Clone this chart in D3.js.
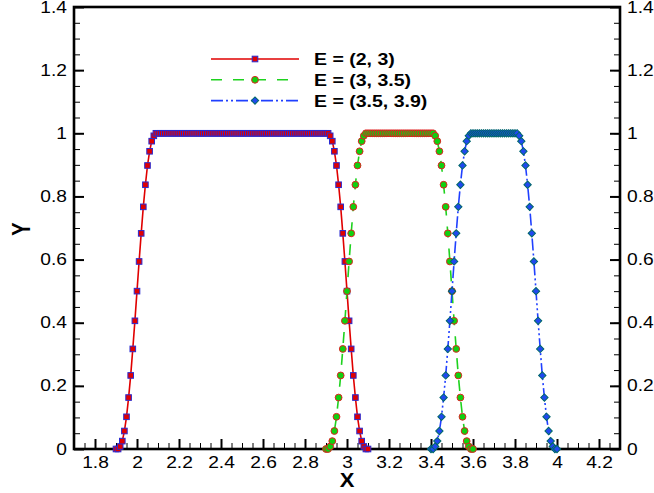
<!DOCTYPE html>
<html>
<head>
<meta charset="utf-8">
<script src="https://cdn.jsdelivr.net/npm/d3@7"></script>
<style>
  body { margin: 0; background: #fff; }
  svg { display: block; font-family: "Liberation Sans", Arial, sans-serif; }
</style>
</head>
<body>
<div id="chart"></div>
<script>
// values, x step 0.01

const x1 = [
  1.90, 1.91, 1.92, 1.93, 1.94, 1.95, 1.96, 1.97, 1.98, 1.99,
  2.00, 2.01, 2.02, 2.03, 2.04, 2.05, 2.06, 2.07, 2.08, 2.09,
  2.10, 2.11, 2.12, 2.13, 2.14, 2.15, 2.16, 2.17, 2.18, 2.19,
  2.20, 2.21, 2.22, 2.23, 2.24, 2.25, 2.26, 2.27, 2.28, 2.29,
  2.30, 2.31, 2.32, 2.33, 2.34, 2.35, 2.36, 2.37, 2.38, 2.39,
  2.40, 2.41, 2.42, 2.43, 2.44, 2.45, 2.46, 2.47, 2.48, 2.49,
  2.50, 2.51, 2.52, 2.53, 2.54, 2.55, 2.56, 2.57, 2.58, 2.59,
  2.60, 2.61, 2.62, 2.63, 2.64, 2.65, 2.66, 2.67, 2.68, 2.69,
  2.70, 2.71, 2.72, 2.73, 2.74, 2.75, 2.76, 2.77, 2.78, 2.79,
  2.80, 2.81, 2.82, 2.83, 2.84, 2.85, 2.86, 2.87, 2.88, 2.89,
  2.90, 2.91, 2.92, 2.93, 2.94, 2.95, 2.96, 2.97, 2.98, 2.99,
  3.00, 3.01, 3.02, 3.03, 3.04, 3.05, 3.06, 3.07, 3.08, 3.09,
  3.10
];
const y1 = [
  0, 0, 0.008, 0.025, 0.057, 0.102, 0.163, 0.233, 0.317, 0.406,
  0.5, 0.594, 0.683, 0.767, 0.837, 0.898, 0.943, 0.975, 0.992, 1,
  1, 1, 1, 1, 1, 1, 1, 1, 1, 1,
  1, 1, 1, 1, 1, 1, 1, 1, 1, 1,
  1, 1, 1, 1, 1, 1, 1, 1, 1, 1,
  1, 1, 1, 1, 1, 1, 1, 1, 1, 1,
  1, 1, 1, 1, 1, 1, 1, 1, 1, 1,
  1, 1, 1, 1, 1, 1, 1, 1, 1, 1,
  1, 1, 1, 1, 1, 1, 1, 1, 1, 1,
  1, 1, 1, 1, 1, 1, 1, 1, 1, 1,
  1, 1, 0.992, 0.975, 0.943, 0.898, 0.837, 0.767, 0.683, 0.594,
  0.5, 0.406, 0.317, 0.233, 0.163, 0.102, 0.057, 0.025, 0.008, 0,
  0
];

const x2 = [
  2.90, 2.91, 2.92, 2.93, 2.94, 2.95, 2.96, 2.97, 2.98, 2.99,
  3.00, 3.01, 3.02, 3.03, 3.04, 3.05, 3.06, 3.07, 3.08, 3.09,
  3.10, 3.11, 3.12, 3.13, 3.14, 3.15, 3.16, 3.17, 3.18, 3.19,
  3.20, 3.21, 3.22, 3.23, 3.24, 3.25, 3.26, 3.27, 3.28, 3.29,
  3.30, 3.31, 3.32, 3.33, 3.34, 3.35, 3.36, 3.37, 3.38, 3.39,
  3.40, 3.41, 3.42, 3.43, 3.44, 3.45, 3.46, 3.47, 3.48, 3.49,
  3.50, 3.51, 3.52, 3.53, 3.54, 3.55, 3.56, 3.57, 3.58, 3.59,
  3.60
];
const y2 = [
  0, 0, 0.008, 0.025, 0.057, 0.102, 0.163, 0.233, 0.317, 0.406,
  0.5, 0.594, 0.683, 0.767, 0.837, 0.898, 0.943, 0.975, 0.992, 1,
  1, 1, 1, 1, 1, 1, 1, 1, 1, 1,
  1, 1, 1, 1, 1, 1, 1, 1, 1, 1,
  1, 1, 1, 1, 1, 1, 1, 1, 1, 1,
  1, 1, 0.992, 0.975, 0.943, 0.898, 0.837, 0.767, 0.683, 0.594,
  0.5, 0.406, 0.317, 0.233, 0.163, 0.102, 0.057, 0.025, 0.008, 0,
  0
];

const x3 = [
  3.40, 3.41, 3.42, 3.43, 3.44, 3.45, 3.46, 3.47, 3.48, 3.49,
  3.50, 3.51, 3.52, 3.53, 3.54, 3.55, 3.56, 3.57, 3.58, 3.59,
  3.60, 3.61, 3.62, 3.63, 3.64, 3.65, 3.66, 3.67, 3.68, 3.69,
  3.70, 3.71, 3.72, 3.73, 3.74, 3.75, 3.76, 3.77, 3.78, 3.79,
  3.80, 3.81, 3.82, 3.83, 3.84, 3.85, 3.86, 3.87, 3.88, 3.89,
  3.90, 3.91, 3.92, 3.93, 3.94, 3.95, 3.96, 3.97, 3.98, 3.99,
  4.00
];
const y3 = [
  0, 0, 0.008, 0.025, 0.057, 0.102, 0.163, 0.233, 0.317, 0.406,
  0.5, 0.594, 0.683, 0.767, 0.837, 0.898, 0.943, 0.975, 0.992, 1,
  1, 1, 1, 1, 1, 1, 1, 1, 1, 1,
  1, 1, 1, 1, 1, 1, 1, 1, 1, 1,
  1, 1, 0.992, 0.975, 0.943, 0.898, 0.837, 0.767, 0.683, 0.594,
  0.5, 0.406, 0.317, 0.233, 0.163, 0.102, 0.057, 0.025, 0.008, 0,
  0
];

const legendLabels = ["E = (2, 3)", "E = (3, 3.5)", "E = (3.5, 3.9)"];
const xTickLabels = [1.8, 2, 2.2, 2.4, 2.6, 2.8, 3, 3.2, 3.4, 3.6, 3.8, 4, 4.2];
const yTickLabels = [0, 0.2, 0.4, 0.6, 0.8, 1, 1.2, 1.4];

// tecplot text looks stretched sideways in the picture
const stretch = 1.2;

const width = 654, height = 493;
const plotLeft = 74, plotRight = 620, plotTop = 7, plotBottom = 449;

const x = d3.scaleLinear().domain([1.7, 4.3]).range([plotLeft, plotRight]);
const y = d3.scaleLinear().domain([0, 1.4]).range([plotBottom, plotTop]);

const svg = d3.select("#chart")
  .append("svg")
    .attr("width", width)
    .attr("height", height);

// minor ticks every 0.05
let xMinor = d3.range(0, 53).map(i => +(1.7 + i * 0.05).toFixed(2)).filter(d => d > 1.71 && d < 4.29);
let yMinor = d3.range(0, 29).map(i => +(i * 0.05).toFixed(2)).filter(d => d > 0.01 && d < 1.39);

function minorAxis(g, axis) {
  g.call(axis);
  g.select(".domain").remove();
  g.selectAll("line").attr("stroke", "#000").attr("stroke-width", 1);
}

svg.append("g")
  .attr("transform", "translate(0," + plotBottom + ")")
  .call(g => minorAxis(g, d3.axisBottom(x).tickValues(xMinor).tickSize(-6).tickFormat("")));
svg.append("g")
  .attr("transform", "translate(" + plotLeft + ",0)")
  .call(g => minorAxis(g, d3.axisLeft(y).tickValues(yMinor).tickSize(-6).tickFormat("")));
svg.append("g")
  .attr("transform", "translate(" + plotRight + ",0)")
  .call(g => minorAxis(g, d3.axisRight(y).tickValues(yMinor).tickSize(-6).tickFormat("")));

// major ticks + labels
let xAxisG = svg.append("g")
  .attr("transform", "translate(0," + plotBottom + ")")
  .call(d3.axisBottom(x).tickValues(xTickLabels).tickSize(-10).tickPadding(8).tickFormat(d => d));
let yAxisL = svg.append("g")
  .attr("transform", "translate(" + plotLeft + ",0)")
  .call(d3.axisLeft(y).tickValues(yTickLabels).tickSize(-10).tickPadding(7).tickFormat(d => d));
let yAxisR = svg.append("g")
  .attr("transform", "translate(" + plotRight + ",0)")
  .call(d3.axisRight(y).tickValues(yTickLabels).tickSize(-10).tickPadding(7).tickFormat(d => d));

[xAxisG, yAxisL, yAxisR].forEach(g => {
  g.select(".domain").remove();
  g.selectAll("line").attr("stroke", "#000").attr("stroke-width", 2);
  g.selectAll("text")
    .attr("font-size", 16)
    .attr("font-family", "Liberation Sans, Arial, sans-serif")
    .attr("fill", "#000");
});
xAxisG.selectAll("text").attr("transform", "scale(" + stretch + ",1)");
yAxisL.selectAll("text").attr("x", -7 / stretch).attr("transform", "scale(" + stretch + ",1)");
yAxisR.selectAll("text").attr("x", 7 / stretch).attr("transform", "scale(" + stretch + ",1)");

// frame
svg.append("rect")
  .attr("x", plotLeft)
  .attr("y", plotTop)
  .attr("width", plotRight - plotLeft)
  .attr("height", plotBottom - plotTop)
  .attr("fill", "none")
  .attr("stroke", "#000")
  .attr("stroke-width", 2.6);

// axis titles
svg.append("text")
  .text("X")
  .attr("transform", "translate(" + x(3) + ",487) scale(1.1,1)")
  .attr("text-anchor", "middle")
  .attr("font-size", 20)
  .attr("font-weight", "bold");
svg.append("text")
  .text("Y")
  .attr("transform", "translate(30,229) scale(1.25,1) rotate(-90)")
  .attr("text-anchor", "middle")
  .attr("font-size", 20)
  .attr("font-weight", "bold");

const series = [
  { xs: x1, ys: y1, line: "#e00000", dash: null, shape: "square", fill: "#e00000", edge: "#2a2ad0" },
  { xs: x2, ys: y2, line: "#1ed21e", dash: "11,11", shape: "circle", fill: "#10d010", edge: "#e02020" },
  { xs: x3, ys: y3, line: "#2040ff", dash: "12,3,2,3,2,3", shape: "diamond", fill: "#2048f0", edge: "#006868" }
];

function marker(sel, s) {
  if (s.shape == "circle") {
    sel.append("circle").attr("r", 3.4);
  } else if (s.shape == "square") {
    sel.append("rect").attr("x", -2.8).attr("y", -2.8).attr("width", 5.6).attr("height", 5.6);
  } else {
    sel.append("rect").attr("x", -2.6).attr("y", -2.6).attr("width", 5.2).attr("height", 5.2)
      .attr("transform", "rotate(45)");
  }
  sel.selectAll("*")
    .attr("fill", s.fill)
    .attr("stroke", s.edge)
    .attr("stroke-width", 1);
}

let lineGen = d3.line().x(d => x(d[0])).y(d => y(d[1]));

series.forEach(s => {
  let pts = s.xs.map((v, i) => [v, s.ys[i]]);
  svg.append("path")
    .datum(pts)
    .attr("d", lineGen)
    .attr("fill", "none")
    .attr("stroke", s.line)
    .attr("stroke-width", 1.6)
    .attr("stroke-dasharray", s.dash);
  svg.append("g").selectAll("g")
    .data(pts)
    .join("g")
      .attr("transform", d => "translate(" + x(d[0]) + "," + y(d[1]) + ")")
      .each(function() { marker(d3.select(this), s); });
});

// legend
let legend = svg.append("g");
series.forEach((s, i) => {
  let ly = 59 + i * 20.8;
  legend.append("line")
    .attr("x1", 211).attr("x2", 299)
    .attr("y1", ly).attr("y2", ly)
    .attr("stroke", s.line)
    .attr("stroke-width", 1.6)
    .attr("stroke-dasharray", s.dash);
  legend.append("g")
    .attr("transform", "translate(255," + ly + ")")
    .call(g => marker(g, s));
  legend.append("text")
    .text(legendLabels[i])
    .attr("transform", "translate(314," + (ly + 6) + ") scale(1.22,1)")
    .attr("font-size", 16)
    .attr("font-weight", "bold");
});
</script>
</body>
</html>
